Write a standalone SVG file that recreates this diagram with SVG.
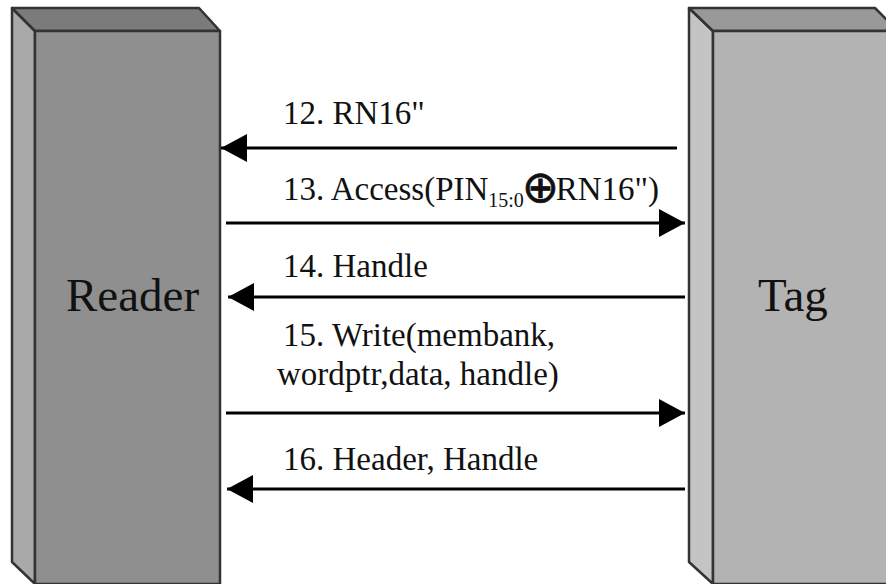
<svg xmlns="http://www.w3.org/2000/svg" width="886" height="584" viewBox="0 0 886 584">
<defs>
<style>
.edge{stroke:#333;stroke-width:2.5;stroke-linejoin:round}
.lbl{font-family:"Liberation Serif","Times New Roman",serif;font-size:33px;fill:#111}
.big{font-family:"Liberation Serif","Times New Roman",serif;font-size:47px;fill:#111}
.conn{stroke:#000;stroke-width:3;fill:none}
</style>
<marker id="ah" markerUnits="userSpaceOnUse" markerWidth="27" markerHeight="28" refX="26" refY="14" orient="auto">
<path d="M0,0 L26,14 L0,28 Z" fill="#000"/>
</marker>
</defs>
<rect width="886" height="584" fill="#fff"/>
<g id="reader">
<polygon class="edge" points="12,8 35,31 35,584 12,562" fill="#a9a9a9"/>
<polygon class="edge" points="12,8 199,8 220,31 35,31" fill="#7b7b7b"/>
<rect class="edge" x="35" y="31" width="185" height="553" fill="#8f8f8f"/>
<text class="big" x="66" y="311">Reader</text>
</g>
<g id="tag">
<polygon class="edge" points="689,8 713,31 713,584 689,562" fill="#c4c4c4"/>
<polygon class="edge" points="689,8 875,8 898,31 713,31" fill="#999"/>
<rect class="edge" x="713" y="31" width="185" height="553" fill="#b3b3b3"/>
<text class="big" x="758" y="311">Tag</text>
</g>
<g id="connectors">
<line class="conn" x1="677" y1="148" x2="221" y2="148" marker-end="url(#ah)"/>
<line class="conn" x1="226" y1="223" x2="685" y2="223" marker-end="url(#ah)"/>
<line class="conn" x1="685" y1="297" x2="228" y2="297" marker-end="url(#ah)"/>
<line class="conn" x1="226" y1="413" x2="685" y2="413" marker-end="url(#ah)"/>
<line class="conn" x1="685" y1="489" x2="227" y2="489" marker-end="url(#ah)"/>
</g>
<g id="labels">
<text class="lbl" x="283" y="200">13. Access(PIN<tspan font-size="20" dy="7">15:0</tspan><tspan dy="-5" dx="-2" font-family="DejaVu Sans" font-size="44" stroke="#111" stroke-width="0.8">⊕</tspan><tspan dy="-2" dx="-3">RN16")</tspan></text>
<text class="lbl" x="283" y="124">12. RN16"</text>
<text class="lbl" x="283" y="277">14. Handle</text>
<text class="lbl" x="283" y="346">15. Write(membank,</text>
<text class="lbl" x="277" y="385">wordptr,data, handle)</text>
<text class="lbl" x="283" y="470">16. Header, Handle</text>
</g>
</svg>
